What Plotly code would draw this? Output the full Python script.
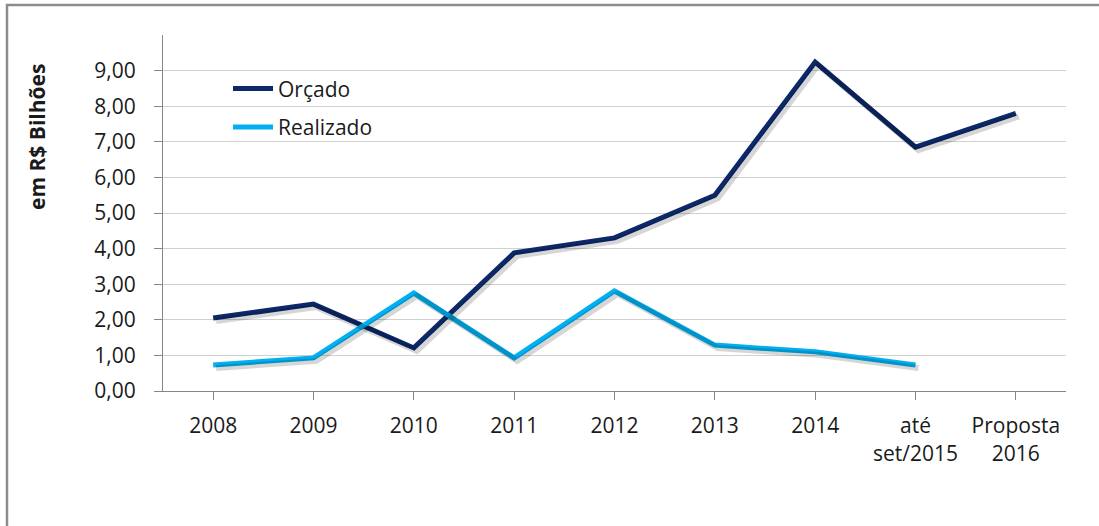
import plotly.graph_objects as go

categories = ["2008", "2009", "2010", "2011", "2012", "2013", "2014", "até<br>set/2015", "Proposta<br>2016"]
orcado = [2.05, 2.44, 1.21, 3.88, 4.30, 5.50, 9.24, 6.85, 7.80]
realizado = [0.73, 0.93, 2.75, 0.93, 2.81, 1.29, 1.10, 0.73, None]
y_ticks = [0, 1, 2, 3, 4, 5, 6, 7, 8, 9]
y_ticktext = ["0,00", "1,00", "2,00", "3,00", "4,00", "5,00", "6,00", "7,00", "8,00", "9,00"]

W, H = 1099, 526
L, R, T, B = 163, 33, 35, 135
pw, ph = W - L - R, H - T - B
FONT = "Open Sans"

xi = list(range(len(categories)))

fig = go.Figure()

# shadow traces (offset via overlaid axes)
for ys in (orcado, realizado):
    fig.add_trace(go.Scatter(x=xi, y=ys, mode="lines", xaxis="x2", yaxis="y2",
                             line=dict(color="rgba(0,0,0,0.16)", width=6),
                             showlegend=False, hoverinfo="skip"))

fig.add_trace(go.Scatter(x=xi, y=orcado, mode="lines", name="Orçado", legendgroup="a",
                         line=dict(color="#0c2868", width=5)))
fig.add_trace(go.Scatter(x=xi, y=realizado, mode="lines", name="Realizado", legendgroup="b",
                         line=dict(color="#00b0f0", width=5)))

dx = 3 / (pw / 9)
dy = 3 / (ph / 10)

fig.update_layout(
    width=W, height=H,
    margin=dict(l=L, r=R, t=T, b=B),
    paper_bgcolor="white", plot_bgcolor="white",
    font=dict(family=FONT, size=21, color="#1a1a1a"),
    xaxis=dict(
        range=[-0.5, 8.5], tickmode="array", tickvals=xi, ticktext=categories,
        showgrid=False, showline=True, linecolor="#868686", linewidth=1,
        ticks="outside", ticklen=8, tickcolor="#868686", tickson="boundaries",
        tickfont=dict(size=21, family=FONT), zeroline=False, ticklabelstandoff=8,
    ),
    yaxis=dict(
        range=[0, 10], tickmode="array", tickvals=y_ticks, ticktext=y_ticktext,
        showgrid=True, gridcolor="#d0d0d0", gridwidth=1.3,
        showline=True, linecolor="#868686", linewidth=1,
        ticks="outside", ticklen=8, tickcolor="#868686",
        tickfont=dict(size=21, family=FONT), zeroline=False, ticklabelstandoff=14,
    ),
    xaxis2=dict(range=[-0.5 - dx, 8.5 - dx], overlaying="x", visible=False),
    yaxis2=dict(range=[0 + dy, 10 + dy], overlaying="y", visible=False),
    legend=dict(x=0.072, y=0.906, xanchor="left", yanchor="top",
                bgcolor="rgba(0,0,0,0)", font=dict(size=21, family=FONT),
                tracegroupgap=8, itemwidth=40),
    annotations=[dict(text="<b>em R$ Bilhões</b>", xref="paper", yref="paper",
                      x=(37 - L) / pw, y=(H - B - 137) / ph, textangle=-90,
                      xanchor="center", yanchor="middle",
                      showarrow=False, font=dict(size=21, family=FONT, color="#1a1a1a"))],
    shapes=[
        dict(type="line", xref="paper", yref="paper",
             x0=(6 - L) / pw, x1=(W - L) / pw, y0=(H - B - 5) / ph, y1=(H - B - 5) / ph,
             line=dict(color="#8c8c8c", width=2.5)),
        dict(type="line", xref="paper", yref="paper",
             x0=(7 - L) / pw, x1=(7 - L) / pw, y0=(H - B - 4) / ph, y1=(H - B - H) / ph,
             line=dict(color="#8c8c8c", width=2.5)),
    ],
)

fig.write_html("out.html", config={"displayModeBar": False},
               post_script="document.body.style.margin='0';")
